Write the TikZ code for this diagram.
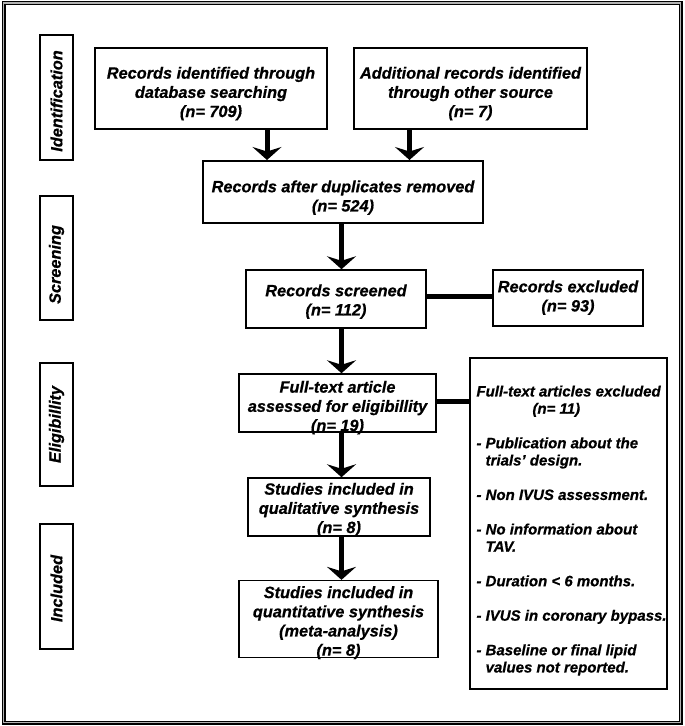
\documentclass[tikz,border=0pt]{standalone}
\usepackage{fontspec}
\setmainfont{Liberation Sans}[BoldItalicFeatures={FakeBold=0.7}]
\usetikzlibrary{arrows.meta}
\newcommand{\btxt}[2]{\raisebox{-#1}[\height][\depth]{\begin{tabular}{@{}c@{}}#2\end{tabular}}}
\begin{document}
\begin{tikzpicture}[x=1pt,y=-1pt,
  every node/.style={font=\bfseries\itshape\fontsize{16.3}{19.2}\selectfont, inner sep=0pt, align=center},
  boxa/.style={draw, line width=2pt},
  boxb/.style={draw, line width=1.5pt},
  lbl/.style={draw, line width=2pt, rotate=90, minimum height=33pt},
  arr/.style={line width=5pt, -{Stealth[length=13pt,width=29pt,inset=4.5pt]}},
  bar/.style={line width=5pt}]
\useasboundingbox (0,0) rectangle (685,726);
\draw[line width=1.3pt, double=gray!60, double distance=1.4pt] (3.5,3) rectangle (680.5,722.5);

% stage labels
\node[lbl, minimum width=125pt] (id)  at (56.5,97.5)  {Identification\hspace*{7pt}};
\node[lbl, minimum width=124pt] (scr) at (56.5,258)   {Screening\hspace*{13pt}};
\node[lbl, minimum width=123pt] (eli) at (56.5,424.5) {Eligibillity};
\node[lbl, minimum width=125pt] (inc) at (56.5,586.5) {Included\hspace*{4pt}};

% boxes
\node[boxa, minimum width=232pt, minimum height=81pt] (b1) at (211,88.5)
  {\btxt{5.5pt}{Records identified through\\database searching\\(n= 709)}};
\node[boxa, minimum width=233pt, minimum height=81pt] (b2) at (470.5,88.5)
  {\btxt{5.5pt}{Additional records identified\\through other source\\(n= 7)}};
\node[boxa, minimum width=280pt, minimum height=62pt] (b3) at (343,192)
  {\btxt{6pt}{Records after duplicates removed\\(n= 524)}};
\node[boxb, minimum width=180pt, minimum height=58pt] (b4) at (336,299)
  {\btxt{3pt}{Records screened\\(n= 112)}};
\node[boxb, minimum width=150pt, minimum height=56pt] (b5) at (568,298)
  {\btxt{0pt}{Records excluded\\(n= 93)}};
\node[boxb, minimum width=197pt, minimum height=58pt] (b6) at (337.5,403)
  {\btxt{5pt}{Full-text article\\assessed for eligibillity\\(n= 19)}};
\node[boxb, minimum width=182pt, minimum height=58pt] (b8) at (339,507)
  {\btxt{3pt}{Studies included in\\qualitative synthesis\\(n= 8)}};
\node[boxb, minimum width=199pt, minimum height=76pt] (b9) at (338.5,619)
  {\btxt{4pt}{Studies included in\\quantitative synthesis\\(meta-analysis)\\(n= 8)}};
\node[boxa, minimum width=195pt, minimum height=331pt,
      font=\bfseries\itshape\fontsize{15}{17.25}\selectfont] (b7) at (568.5,523.5)
  {\raisebox{-7.5pt}[\height][\depth]{\begin{tabular}{@{\hspace{6pt}}l@{}}
   Full-text articles excluded\\
   \hspace*{56pt}(n= 11)\\[17.25pt]
   - Publication about the\\
   \phantom{- }trials’ design.\\[17.25pt]
   - Non IVUS assessment.\\[17.25pt]
   - No information about\\
   \phantom{- }TAV.\\[17.25pt]
   - Duration < 6 months.\\[17.25pt]
   - IVUS in coronary bypass.\\[17.25pt]
   - Baseline or final lipid\\
   \phantom{- }values not reported.
   \end{tabular}}};

% connectors
\coordinate (a1) at (267,0);
\coordinate (a2) at (409.5,0);
\coordinate (ax) at (341.5,0);
\coordinate (l1) at (0,296);
\coordinate (l2) at (0,401);
\draw[arr] (b1.south -| a1) -- (b3.north -| a1);
\draw[arr] (b2.south -| a2) -- (b3.north -| a2);
\draw[arr] (b3.south -| ax) -- (b4.north -| ax);
\draw[arr] (b4.south -| ax) -- (b6.north -| ax);
\draw[arr] (b6.south -| ax) -- (b8.north -| ax);
\draw[arr] (b8.south -| ax) -- (b9.north -| ax);
\draw[bar] (b4.east |- l1) -- (b5.west |- l1);
\draw[bar] (b6.east |- l2) -- (b7.west |- l2);
\end{tikzpicture}
\end{document}
